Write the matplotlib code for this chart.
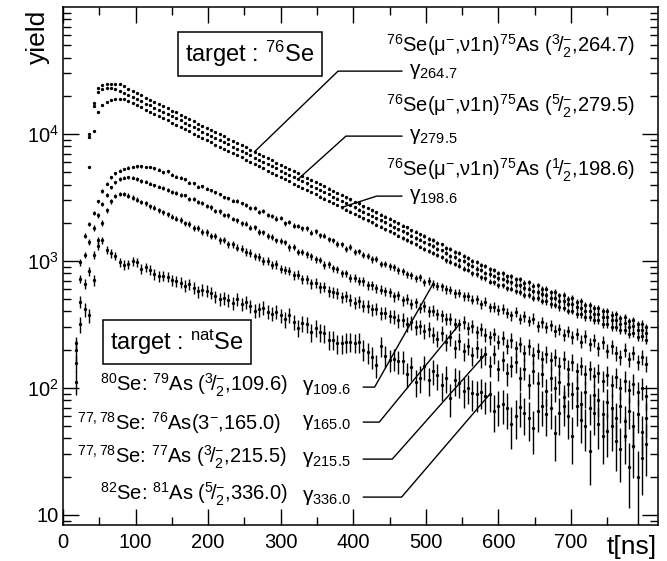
import numpy as np
import matplotlib.pyplot as plt
from matplotlib.ticker import FixedLocator, FixedFormatter, LogLocator, NullFormatter

plt.rcParams['font.family'] = ['Liberation Sans', 'DejaVu Sans']
plt.rcParams['mathtext.fontset'] = 'custom'
plt.rcParams['mathtext.rm'] = 'Liberation Sans'
plt.rcParams['mathtext.it'] = 'Liberation Sans:italic'
plt.rcParams['mathtext.bf'] = 'Liberation Sans:bold'
plt.rcParams['mathtext.default'] = 'regular'

nan = np.nan

# time bins (ns), 6 ns wide, 18 ... 804
t = np.arange(18, 805, 6)

# --- 76Se target (yields) ---
y_264 = [nan, nan, nan, 10000, 17500, 23000, 24500, 25000, 25000, 24800, 24600, 23700,
         22700, 21900, 21000, 20200, 19400, 18700, 17900, 17300, 16600, 16000, 15300, 14800,
         14200, 13600, 13100, 12600, 12100, 11600, 11200, 10800, 10300, 9950, 9570, 9200,
         8840, 8500, 8170, 7850, 7550, 7260, 6980, 6710, 6450, 6200, 5960, 5730,
         5510, 5300, 5090, 4900, 4710, 4530, 4350, 4190, 4020, 3870, 3720, 3570,
         3440, 3320, 3170, 3060, 2930, 2840, 2700, 2620, 2500, 2420, 2310, 2240,
         2150, 2050, 1990, 1890, 1840, 1750, 1700, 1620, 1570, 1490, 1460, 1380,
         1350, 1270, 1240, 1180, 1150, 1090, 1060, 1000, 985, 925, 910, 858,
         850, 805, 802, 760, 758, 715, 720, 676, 680, 640, 642, 600,
         606, 566, 572, 535, 540, 505, 508, 476, 480, 450, 452, 425,
         428, 400, 404, 378, 380, 356, 360, 335, 340, 316, 320, 300]

y_279 = [nan, nan, nan, 9500, 16500, 21500, 22800, 23200, 23000, 22500, 21900, 21100,
         20300, 19500, 18800, 18100, 17400, 16800, 16100, 15600, 14900, 14400, 13800, 13300,
         12800, 12200, 11800, 11300, 10900, 10400, 10100, 9720, 9270, 8960, 8610, 8280,
         7960, 7650, 7350, 7070, 6800, 6530, 6280, 6040, 5810, 5580, 5360, 5160,
         4960, 4770, 4580, 4410, 4240, 4080, 3920, 3770, 3620, 3480, 3350, 3210,
         3100, 2970, 2860, 2750, 2650, 2540, 2440, 2350, 2260, 2170, 2090, 2010,
         1930, 1850, 1780, 1710, 1650, 1580, 1520, 1470, 1400, 1350, 1310, 1250,
         1210, 1160, 1100, 1080, 1020, 995, 940, 918, 870, 850, 805, 785,
         762, 730, 722, 690, 680, 648, 645, 612, 606, 575, 572, 548,
         540, 512, 510, 486, 480, 456, 455, 430, 428, 405, 404, 382,
         385, 360, 362, 340, 340, 320, 322, 302, 305, 285, 288, 270]

y_198 = [nan, nan, nan, 5500, 10500, 15000, 17000, 18000, 18600, 18900, 19000, 18800,
         18200, 17500, 16800, 16200, 15500, 15000, 14300, 13800, 13300, 12800, 12200, 11800,
         11400, 10900, 10500, 10100, 9680, 9280, 8960, 8640, 8240, 7960, 7660, 7360,
         7070, 6800, 6540, 6280, 6040, 5810, 5580, 5370, 5160, 4960, 4770, 4580,
         4410, 4240, 4070, 3920, 3770, 3620, 3480, 3350, 3220, 3100, 2980, 2860,
         2750, 2640, 2540, 2440, 2350, 2260, 2170, 2090, 2010, 1930, 1860, 1780,
         1710, 1650, 1580, 1520, 1460, 1410, 1350, 1300, 1250, 1200, 1160, 1110,
         1080, 1010, 990, 945, 920, 870, 848, 800, 788, 742, 728, 686,
         680, 646, 642, 610, 606, 575, 572, 542, 540, 510, 510, 482,
         480, 455, 452, 430, 428, 404, 404, 382, 380, 360, 360, 340,
         340, 320, 320, 302, 302, 284, 285, 268, 270, 252, 255, 240]

# --- natSe target ---
y_109 = [224, 977, 1585, 1950, 2400, 2950, 3550, 4070, 4570, 4900, 5130, 5310,
         5430, 5500, 5560, 5560, 5500, 5500, 5370, 5250, 5010, 5070, 4790, 4620,
         4520, 4400, 4150, 4100, 3860, 3880, 3720, 3610, 3480, 3340, 3170, 3120,
         2990, 2980, 2840, 2780, 2630, 2600, 2420, 2470, 2310, 2270, 2160, 2170,
         1980, 2040, 1900, 1890, 1810, 1810, 1670, 1710, 1590, 1580, 1480, 1460,
         1360, 1350, 1250, 1290, 1180, 1190, 1120, 1090, 1030, 1040, 950, 950,
         905, 890, 845, 830, 790, 775, 728, 745, 680, 700, 661, 632,
         630, 598, 595, 556, 562, 525, 525, 495, 500, 458, 478, 432,
         437, 410, 418, 392, 372, 395, 350, 368, 338, 352, 305, 330,
         300, 312, 282, 290, 262, 280, 250, 268, 232, 255, 222, 238,
         205, 228, 196, 212, 188, 176, 200, 170, 190, 160, 175, 155]

y_165 = [158, 724, 1120, 1410, 1820, 2290, 2820, 3310, 3800, 4170, 4420, 4520,
         4570, 4520, 4420, 4270, 4220, 4070, 3940, 3850, 3760, 3630, 3510, 3430,
         3310, 3280, 3100, 3060, 2920, 2860, 2720, 2640, 2480, 2460, 2310, 2290,
         2140, 2090, 1980, 1960, 1830, 1840, 1690, 1680, 1570, 1550, 1450, 1430,
         1400, 1280, 1290, 1180, 1180, 1130, 1090, 1030, 1020, 930, 940, 875,
         860, 800, 800, 735, 740, 700, 690, 645, 645, 610, 595, 575,
         568, 525, 535, 490, 505, 458, 472, 428, 440, 404, 406, 380,
         372, 350, 352, 320, 316, 330, 295, 305, 275, 290, 262, 250,
         265, 232, 248, 215, 238, 205, 222, 190, 212, 182, 196, 170,
         185, 165, 175, 150, 168, 142, 160, 135, 150, 128, 140, 124,
         132, 114, 126, 106, 122, 100, 114, 96, 108, 92, 100, 86]

y_215 = [112, 479, 661, 832, 1120, 1450, 2000, 2510, 2950, 3240, 3390, 3390,
         3270, 3160, 3050, 2920, 2850, 2690, 2630, 2510, 2430, 2340, 2240, 2160,
         2110, 1980, 1970, 1820, 1820, 1700, 1680, 1580, 1570, 1460, 1470, 1360,
         1350, 1270, 1250, 1180, 1160, 1090, 1080, 1000, 1005, 930, 940, 865,
         851, 835, 775, 780, 715, 720, 665, 676, 620, 625, 575, 570,
         556, 520, 530, 495, 470, 480, 445, 440, 415, 420, 388, 392,
         368, 365, 340, 345, 318, 330, 300, 305, 280, 290, 262, 245,
         270, 230, 250, 205, 235, 195, 215, 180, 205, 175, 184, 150,
         185, 140, 165, 130, 150, 160, 120, 142, 105, 135, 110, 128,
         95, 120, 100, 112, 85, 108, 90, 100, 75, 92, 70, 88,
         80, 62, 78, 70, 58, 72, 55, 66, 50, 62, 45, 58]

y_336 = [200, 316, 417, 372, 708, 1320, 1450, 1230, 1150, 1100, 977, 933,
         944, 1000, 977, 871, 891, 851, 785, 759, 767, 750, 708, 692,
         676, 638, 653, 617, 575, 596, 582, 562, 525, 501, 507, 490,
         468, 501, 457, 473, 442, 407, 417, 427, 398, 385, 398, 372,
         347, 376, 331, 295, 324, 316, 275, 295, 275, 269, 240, 240,
         224, 224, 229, 232, 226, 229, 200, 191, 174, 151, 214, 178,
         166, 170, 162, 162, 129, 145, 112, 120, 148, 115, 135, 126,
         105, 120, 83, 115, 110, 95, 100, 91, 89, 93, 87, 89,
         66, 72, 74, 69, 52, 60, 71, 63, 58, 48, 66, 72,
         62, 69, 44, 63, 72, 60, 42, 72, 56, 50, 32, 63,
         52, 42, 46, 50, 38, 33, 42, 24, 35, 20, 28, 36]

# statistical error scale per series (err = k*sqrt(yield))
err_k = {'264': 1.2, '279': 1.2, '198': 1.2, '109': 1.8, '165': 2.0, '215': 2.3, '336': 2.6}

fig = plt.figure(figsize=(6.67, 5.61), dpi=100)
ax = fig.add_axes([0.0945, 0.064, 0.892, 0.9233])

data = {'264': y_264, '279': y_279, '198': y_198, '109': y_109,
        '165': y_165, '215': y_215, '336': y_336}
for key, vals in data.items():
    y = np.array(vals, dtype=float)
    ax.errorbar(t, y, yerr=err_k[key] * np.sqrt(y), fmt='o', ms=2.4, mew=0,
                color='k', ecolor='k', elinewidth=1.0, capsize=0)

ax.set_yscale('log')
ax.set_xlim(0, 820)
ax.set_ylim(8.3, 1.0e5)

ax.xaxis.set_major_locator(FixedLocator(range(0, 800, 100)))
ax.xaxis.set_minor_locator(FixedLocator(range(50, 800, 100)))
ax.yaxis.set_major_locator(FixedLocator([10, 100, 1000, 10000]))
ax.yaxis.set_major_formatter(FixedFormatter(['10', r'$10^{2}$', r'$10^{3}$', r'$10^{4}$']))
ax.yaxis.set_minor_locator(LogLocator(base=10, subs=np.arange(2, 10)))
ax.yaxis.set_minor_formatter(NullFormatter())
ax.tick_params(which='both', direction='in', top=True, right=True, width=1.0)
ax.tick_params(which='major', length=11.5, labelsize=14.5)
ax.tick_params(which='minor', length=5.8)
ax.tick_params(axis='x', pad=6)
ax.tick_params(axis='y', pad=3)
for s in ax.spines.values():
    s.set_linewidth(1.1)

fig.text(38 / 667, 1 - 10 / 561, 'yield', rotation=90, ha='center', va='top', fontsize=19)
fig.text(657 / 667, 1 - 547 / 561, 't[ns]', ha='right', va='center', fontsize=19)


def px(x, y):
    # reference pixel position -> axes fraction
    return ((x - 63) / 595, (525 - y) / 518)


box = dict(boxstyle='square,pad=0.3', fc='white', ec='k', lw=1.1)
ax.text(*px(250, 54), r'target : $^{76}$Se', transform=ax.transAxes,
        ha='center', va='center', fontsize=17, bbox=box, zorder=5)
ax.text(*px(177, 342), r'target : $^{nat}$Se', transform=ax.transAxes,
        ha='center', va='center', fontsize=17, bbox=box, zorder=5)

# 76Se reaction labels
se76 = [(r'$^{76}$Se(μ$^{-}$,ν1n)$^{75}$As ($^{3}\!/_{2}^{-}$,264.7)', 46),
        (r'$^{76}$Se(μ$^{-}$,ν1n)$^{75}$As ($^{5}\!/_{2}^{-}$,279.5)', 106),
        (r'$^{76}$Se(μ$^{-}$,ν1n)$^{75}$As ($^{1}\!/_{2}^{-}$,198.6)', 170)]
for txt, yy in se76:
    ax.text(*px(635, yy), txt, transform=ax.transAxes, ha='right', va='center', fontsize=14.5)

# gamma labels with pointer lines to the data
gam76 = [(r'γ$_{264.7}$', y_264, 41, 71, 44),
         (r'γ$_{279.5}$', y_279, 51, 136, 42),
         (r'γ$_{198.6}$', y_198, 61, 196, 18)]
for txt, ys, i, yy, ang in gam76:
    ax.annotate(txt, xy=(t[i], ys[i]), xycoords='data', xytext=px(409, yy),
                textcoords='axes fraction', ha='left', va='center', fontsize=15,
                arrowprops=dict(arrowstyle='-', lw=1.0, color='k', relpos=(0, 0.5),
                                shrinkA=3, shrinkB=0,
                                connectionstyle=f'angle,angleA=0,angleB={ang},rad=0'))

# natSe reaction labels
nat = [(r'$^{80}$Se: $^{79}$As ($^{3}\!/_{2}^{-}$,109.6)', 100, 385),
       (r'$^{77,78}$Se: $^{76}$As(3$^{-}$,165.0)', 77, 423),
       (r'$^{77,78}$Se: $^{77}$As ($^{3}\!/_{2}^{-}$,215.5)', 77, 457),
       (r'$^{82}$Se: $^{81}$As ($^{5}\!/_{2}^{-}$,336.0)', 100, 494)]
for txt, xx, yy in nat:
    ax.text(*px(xx, yy), txt, transform=ax.transAxes, ha='left', va='center', fontsize=14.5)

gamnat = [(r'γ$_{109.6}$', y_109, 82, 387, 60.5),
          (r'γ$_{165.0}$', y_165, 88, 422, 50.7),
          (r'γ$_{215.5}$', y_215, 94, 459, 48.4),
          (r'γ$_{336.0}$', y_336, 95, 497, 49.4)]
for txt, ys, i, yy, ang in gamnat:
    ax.annotate(txt, xy=(t[i], ys[i]), xycoords='data', xytext=px(302, yy),
                textcoords='axes fraction', ha='left', va='center', fontsize=15,
                arrowprops=dict(arrowstyle='-', lw=1.0, color='k', relpos=(1, 0.5),
                                shrinkA=7, shrinkB=0,
                                connectionstyle=f'angle,angleA=0,angleB={ang},rad=0'))

fig.savefig('out.png', dpi=100)
